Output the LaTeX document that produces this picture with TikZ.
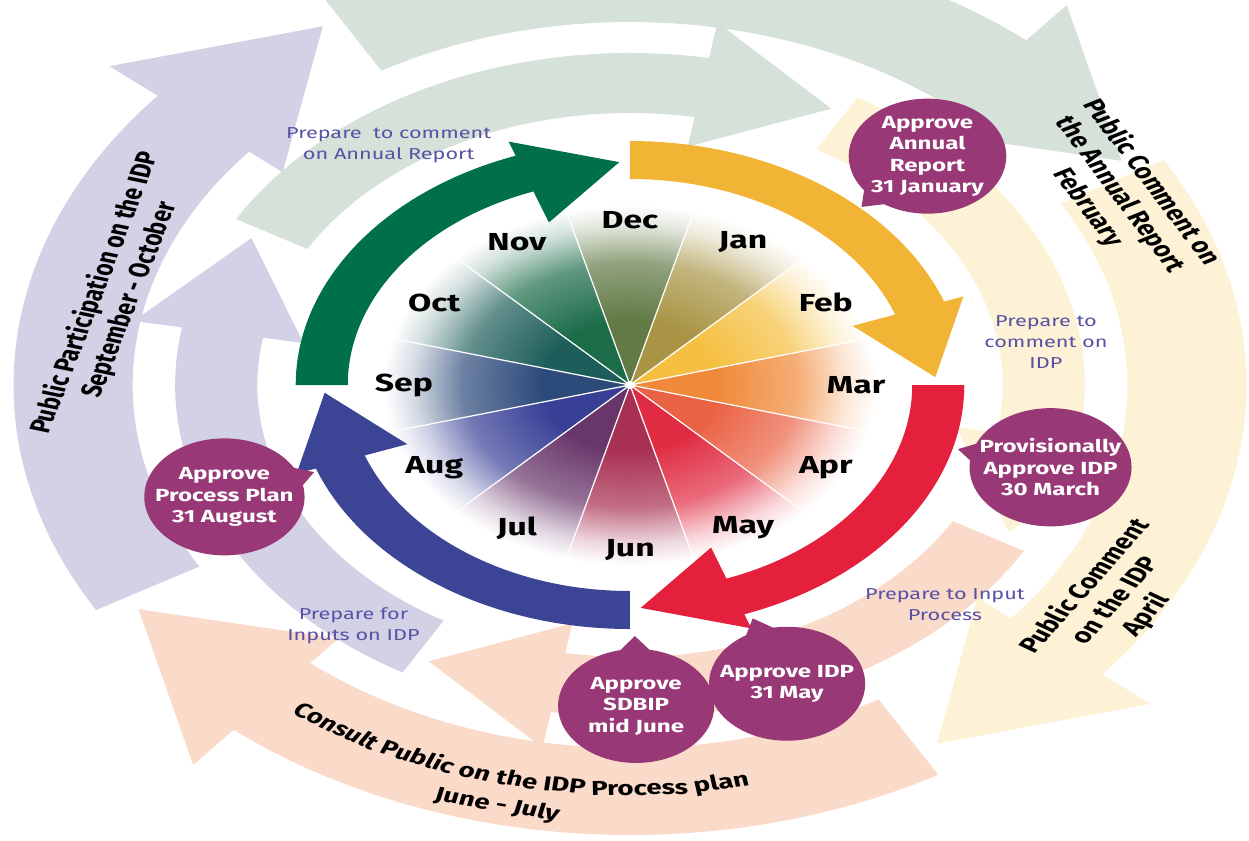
\documentclass[tikz,border=0pt]{standalone}
\usepackage{fontspec}
\setmainfont{Fira Sans}

\definecolor{ringgreen}{RGB}{0,112,72}
\definecolor{ringyellow}{RGB}{242,180,52}
\definecolor{ringred}{RGB}{228,32,60}
\definecolor{ringblue}{RGB}{60,68,150}
\definecolor{palelav}{RGB}{211,209,230}
\definecolor{palegrey}{RGB}{213,225,217}
\definecolor{palecream}{RGB}{253,242,214}
\definecolor{palepeach}{RGB}{250,218,200}
\definecolor{bubblepurple}{RGB}{152,56,118}
\definecolor{notecolor}{RGB}{88,82,165}

\definecolor{cDec}{RGB}{98,122,70}
\definecolor{cJan}{RGB}{168,148,68}
\definecolor{cFeb}{RGB}{245,192,66}
\definecolor{cMar}{RGB}{240,138,58}
\definecolor{cApr}{RGB}{234,98,68}
\definecolor{cMay}{RGB}{224,44,66}
\definecolor{cJun}{RGB}{168,48,82}
\definecolor{cJul}{RGB}{104,54,106}
\definecolor{cAug}{RGB}{56,64,150}
\definecolor{cSep}{RGB}{44,74,122}
\definecolor{cOct}{RGB}{30,94,90}
\definecolor{cNov}{RGB}{28,108,74}

\def\monthshade#1#2{\pgfdeclareradialshading{sh#1}{\pgfpoint{0bp}{0bp}}{color(0bp)=(#2); color(9bp)=(#2); color(17bp)=(#2!70!white); color(22bp)=(#2!20!white); color(25bp)=(white); color(50bp)=(white)}}
\monthshade{Dec}{cDec}\monthshade{Jan}{cJan}\monthshade{Feb}{cFeb}\monthshade{Mar}{cMar}
\monthshade{Apr}{cApr}\monthshade{May}{cMay}\monthshade{Jun}{cJun}\monthshade{Jul}{cJul}
\monthshade{Aug}{cAug}\monthshade{Sep}{cSep}\monthshade{Oct}{cOct}\monthshade{Nov}{cNov}

\def\ringarrow[#1](#2)(#3:#4)(#5:#6:#7){\fill[#1] (#2:#3) arc[start angle=#2, delta angle=-70, radius=#3] -- (#2-70:#5) -- (#2-88:#7) -- (#2-70:#6) -- (#2-70:#4) arc[start angle=#2-70, delta angle=70, radius=#4] -- cycle;}
\def\bubble(#1:#2)(#3)#4{\begin{scope}[shift={(#1:#2)}]\fill[bubblepurple] (#1+167:55) -- (#1+180:70) -- (#1+193:55) -- cycle;\end{scope}\node[bubble] (#3) at (#1:#2) {#4};}

\tikzset{
  month/.style={font=\bfseries\fontsize{14}{16}\selectfont},
  bubble/.style={circle, fill=bubblepurple, text=white, minimum size=2.28cm, inner sep=0pt, align=center, font=\bfseries\fontsize{10}{12.2}\selectfont},
  note/.style={text=notecolor, align=center, font=\fontsize{9}{12}\selectfont},
  phase/.style={align=center, font=\bfseries\fontsize{12}{15}\selectfont},
  curved/.style={anchor=base, inner sep=0pt, font=\bfseries\fontsize{11.5}{13}\selectfont}
}

\begin{document}
\begin{tikzpicture}[x=0.02cm, y=0.02cm]
		%%%%% START %%%%%
		
		\useasboundingbox (-630,-455) rectangle (619,385);
		\clip (-630,-455) rectangle (619,385);
		
		\begin{scope}[xscale=1.37, transform shape]
		
		\ringarrow[palelav](210)(363:450)(331:496:423);
		\ringarrow[palegrey](120)(363:450)(331:496:423);
		\ringarrow[palecream](30)(363:450)(331:496:423);
		\ringarrow[palepeach](-60)(363:450)(331:496:423);
		
		\ringarrow[palegrey](150)(272:332)(242:368:313);
		\ringarrow[palecream](60)(272:332)(242:368:313);
		\ringarrow[palepeach](-30)(272:332)(242:368:313);
		\ringarrow[palelav](-120)(272:332)(242:368:313);
		
		\foreach \m [count=\i, evaluate=\i as \a using 120-30*\i] in {Dec,Jan,Feb,Mar,Apr,May,Jun,Jul,Aug,Sep,Oct,Nov} {
			\begin{scope}
				\clip (0,0) -- (\a-15:180) arc[start angle=\a-15, delta angle=30, radius=180] -- cycle;
				\shade[shading=sh\m] (0,0) circle (180);
			\end{scope}
		}
		\foreach \a in {15,45,...,345}
			\draw[white, line width=0.7pt] (0,0) -- (\a:180);
		\fill[white] (0,0) circle (4);
		
		\foreach \m [count=\i, evaluate=\i as \a using 120-30*\i] in {Dec,Jan,Feb,Mar,Apr,May,Jun,Jul,Aug,Sep,Oct,Nov}
			\node[month] (m-\m) at (\a:165) {\m};
		
		\ringarrow[ringgreen](180)(206:244)(173:259:223);
		\ringarrow[ringyellow](90)(206:244)(173:259:223);
		\ringarrow[ringred](0)(206:244)(173:259:223);
		\ringarrow[ringblue](-90)(206:244)(173:259:223);
		
		\node[note] (n-report) at (126.3:297.6) {Prepare~ to comment\\on Annual Report};
		\node[note] (n-idp) at (8:306.6) {Prepare to\\comment on\\IDP};
		\node[note] (n-input) at (-43.7:318) {Prepare to Input\\Process};
		\node[note] (n-inputs) at (230:314) {Prepare for\\Inputs on IDP};
		
		\bubble(46.5:315.5)(b-jan){Approve\\Annual\\Report\\31 January}
		\bubble(-15:317.8)(b-mar){Provisionally\\Approve IDP\\30 March}
		\bubble(-89.2:321)(b-jun){Approve\\SDBIP\\mid June}
		\bubble(-69:320)(b-may){Approve IDP\\31 May}
		\bubble(200.7:316.5)(b-aug){Approve\\Process Plan\\31 August}
		
		\node[phase, rotate=74] (p-partic) at (166.8:388) {Public Participation on the IDP\\September - October};
		\node[phase, rotate=-61] (p-annual) at (28:405) {Public Comment on\\the Annual Report\\February};
		\node[phase, rotate=57] (p-april) at (-31.3:415) {Public Comment\\on the IDP\\April};
		
		\foreach \w/\a [count=\i] in {Consult/237.9, Public/247.4, on/253.7, the/258.2, IDP/263.2, Process/271.0, plan/279.5}
			\node[curved, rotate=\a+90] (c-\i) at (\a:410) {\w};
		\node[curved, rotate=347] (c-dates) at (257:437) {June - July};
		
		\end{scope}
		
		%%%%% END %%%%%
\end{tikzpicture}
\end{document}
